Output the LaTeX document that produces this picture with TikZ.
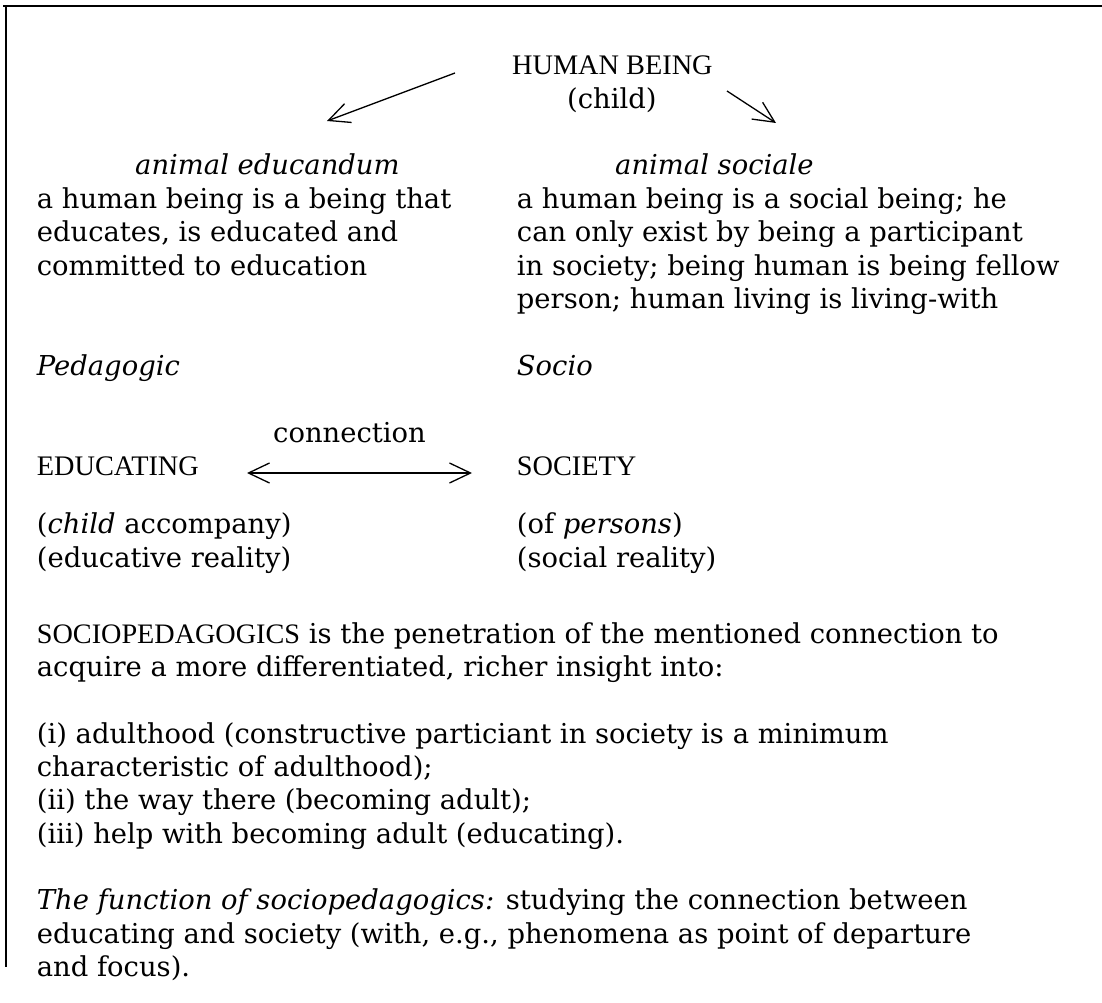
\documentclass[tikz,border=0pt]{standalone}
\usepackage{fontspec}
\setmainfont{DejaVu Serif}
\newfontfamily\tms{Liberation Serif}
\usetikzlibrary{arrows.meta}
\begin{document}
\begin{tikzpicture}[x=1pt,y=-1pt,
  txt/.style={anchor=base west, inner sep=0pt, font=\fontsize{27.4}{33}\selectfont},
  itxt/.style={anchor=base west, inner sep=0pt, font=\fontsize{27.4}{33}\selectfont\itshape},
  caps/.style={anchor=base west, inner sep=0pt, font=\fontsize{28.3}{33}\selectfont\tms},
  arr/.style={line width=1.3pt, -{Straight Barb[length=21pt,width=20pt,line width=1.3pt]}},
  darr/.style={line width=1.3pt, {Straight Barb[length=21pt,width=20pt,line width=1.3pt]}-{Straight Barb[length=21pt,width=20pt,line width=1.3pt]}},
  frameline/.style={line width=2pt}]
\useasboundingbox (0,0) rectangle (1102,1003);
% frame
\coordinate (ftl) at (6,6);
\coordinate (ftr) at (1102,6);
\coordinate (fbl) at (6,967);
\draw[frameline] (3,6) -- (ftr);
\draw[frameline] (ftl) -- (fbl);
% top
\node[caps] (hb) at (512,75) {HUMAN BEING};
\node[txt] (child) at (567,109) {(child)};
\coordinate (la1) at (455,73);
\coordinate (la2) at (327,121);
\coordinate (ra1) at (727,91);
\coordinate (ra2) at (776,123);
\draw[arr] (la1) -- (la2);
\draw[arr] (ra1) -- (ra2);
% columns
\node[itxt] (ae) at (135,175) {animal educandum};
\node[itxt] (as) at (615,175) {animal sociale};
\node[txt] (l1) at (36.7,208.4) {a human being is a being that};
\node[txt] (l2) at (36.7,241.8) {educates, is educated and};
\node[txt] (l3) at (36.7,275.2) {committed to education};
\node[txt] (r1) at (516.7,208.4) {a human being is a social being; he};
\node[txt] (r2) at (516.7,241.8) {can only exist by being a participant};
\node[txt] (r3) at (516.7,275.2) {in society; being human is being fellow};
\node[txt] (r4) at (516.7,308.6) {person; human living is living-with};
\node[itxt] (ped) at (36.7,375) {Pedagogic};
\node[itxt] (soc) at (516.7,375) {Socio};
\node[txt] (conn) at (273,442) {connection};
\node[caps] (edu) at (36.7,475) {EDUCATING};
\node[caps] (society) at (516.7,475) {SOCIETY};
\coordinate (da1) at (247,473);
\coordinate (da2) at (472,473);
\draw[darr] (da1) -- (da2);
\node[txt] (ca) at (36.7,533) {(\textit{child} accompany)};
\node[txt] (op) at (516.7,533) {(of \textit{persons})};
\node[txt] (er) at (36.7,567) {(educative reality)};
\node[txt] (sr) at (516.7,567) {(social reality)};
% lower text
\node[txt] (s1) at (36.7,643) {{\tms\fontsize{28.2}{33}\selectfont SOCIOPEDAGOGICS} is the penetration of the mentioned connection to};
\node[txt] (s2) at (36.7,676.4) {acquire a more differentiated, richer insight into:};
\node[txt] (i1) at (36.7,743) {(i) adulthood (constructive particiant in society is a minimum};
\node[txt] (i2) at (36.7,776.4) {characteristic of adulthood);};
\node[txt] (i3) at (36.7,809.8) {(ii) the way there (becoming adult);};
\node[txt] (i4) at (36.7,843.2) {(iii) help with becoming adult (educating).};
\node[txt] (f1) at (36.7,909.8) {\textit{The function of sociopedagogics:} studying the connection between};
\node[txt] (f2) at (36.7,943.2) {educating and society (with, e.g., phenomena as point of departure};
\node[txt] (f3) at (36.7,976.6) {and focus).};
\end{tikzpicture}
\end{document}
